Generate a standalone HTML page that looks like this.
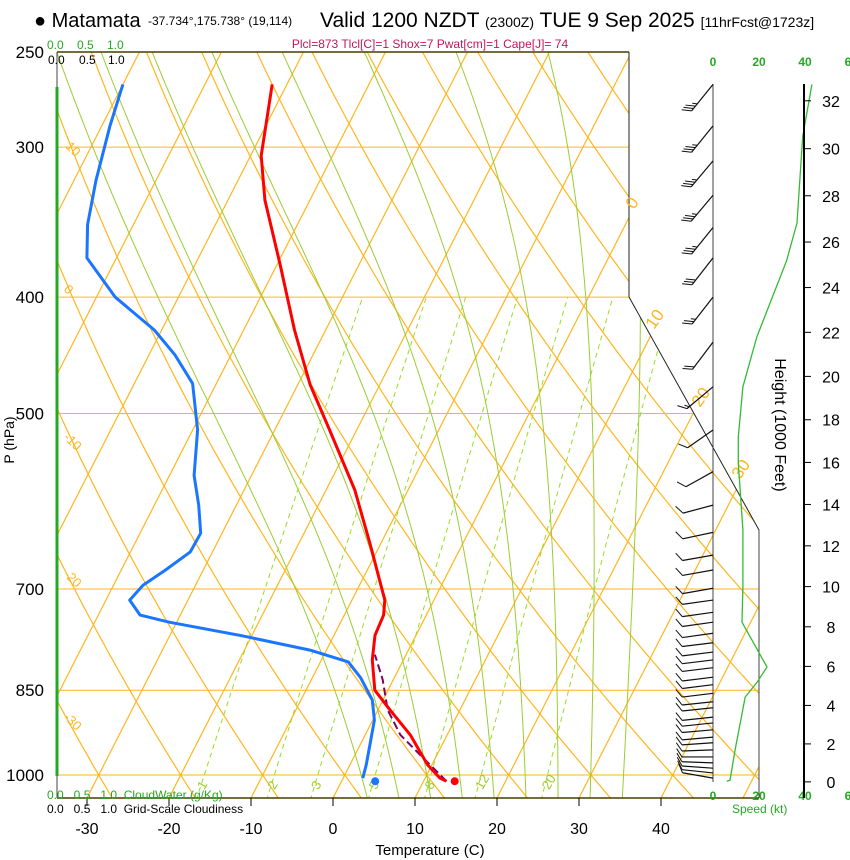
<!DOCTYPE html>
<html><head><meta charset="utf-8"><style>
html,body{margin:0;padding:0;background:#fff;}
svg{display:block;font-family:"Liberation Sans",sans-serif;}
</style></head><body>
<svg id="c" width="850" height="860" viewBox="0 0 850 860" xmlns="http://www.w3.org/2000/svg">
<defs><clipPath id="plotclip"><polygon points="57,52 629,52 629,297 759,530 759,798 57,798"/></clipPath></defs>
<g id="bg" clip-path="url(#plotclip)"></g>
<g id="data" clip-path="url(#plotclip)"></g>
<g id="ax"></g>
<g>
<text x="34" y="27" font-size="20">● Matamata</text>
<text x="148" y="25" font-size="12">-37.734°,175.738° (19,114)</text>
<text x="320" y="27" font-size="21">Valid 1200 NZDT <tspan font-size="14">(2300Z)</tspan> TUE 9 Sep 2025 <tspan font-size="14">[11hrFcst@1723z]</tspan></text>
<text x="430" y="48" font-size="12" fill="#c0185a" text-anchor="middle">Plcl=873 Tlcl[C]=1 Shox=7 Pwat[cm]=1 Cape[J]= 74</text>
</g>
<g font-size="12">
<text x="47" y="49" fill="#22aa22">0.0</text>
<text x="77" y="49" fill="#22aa22">0.5</text>
<text x="107" y="49" fill="#22aa22">1.0</text>
<text x="48" y="64" fill="#000">0.0</text>
<text x="79" y="64" fill="#000">0.5</text>
<text x="108" y="64" fill="#000">1.0</text>
<text x="47" y="799" fill="#22aa22">0.0&#160;&#160;&#160;0.5&#160;&#160;&#160;1.0&#160;&#160;CloudWater (g/Kg)</text>
<text x="47" y="813" fill="#000">0.0&#160;&#160;&#160;0.5&#160;&#160;&#160;1.0&#160;&#160;Grid-Scale Cloudiness</text>
<text x="732" y="813" fill="#22aa22">Speed (kt)</text>
</g>
<text x="430" y="855" font-size="15" text-anchor="middle">Temperature (C)</text>
<text x="14" y="440" font-size="14" text-anchor="middle" transform="rotate(-90 14 440)">P (hPa)</text>
<text x="775" y="425" font-size="16" text-anchor="middle" transform="rotate(90 775 425)">Height (1000 Feet)</text>
</svg>
<script>
// ---- data arrays ----
const tempP = [266,305,332,376,426,473,516,579,643,715,736,765,802,850,883,926,981,1006,1012];
const tempT = [-51.8,-48.7,-45.5,-39.6,-33.8,-28.5,-23.3,-16.5,-11.2,-6.0,-5.2,-5.0,-3.8,-1.6,1.5,5.5,9.5,11.8,12.8];
const dewP = [266,288,320,348,371,400,426,447,472,516,563,596,629,652,675,695,715,736,746,765,787,805,830,866,900,944,981,1006];
const dewT = [-70.0,-69.0,-67.3,-65.6,-63.6,-57.7,-50.9,-46.8,-42.9,-39.4,-37.0,-34.6,-32.6,-32.7,-34.6,-36.4,-37.1,-34.9,-30.9,-21.5,-12.0,-6.6,-4.1,-1.3,0.2,1.2,2.0,2.4];
const parcelP = [1012,981,926,883,833,794];
const parcelT = [12.8,9.8,4.3,1.2,-1.3,-3.8];
const sfcP = 1012, sfcT = 13.8, sfcTd = 4.1;
const windP = [266,288,308,329,350,371,400,436,475,516,559,596,628,656,675,699,715,732,746,762,776,790,802,814,829,841,855,869,879,895,905,917,930,940,953,966,977,987,996,1006];
const windDir = [219,219,220,220,219,218,218,217,230,235,241,255,258,260,260,260,262,262,262,262,263,263,263,263,263,263,263,264,264,264,264,265,265,266,268,270,272,274,276,280];
const windSpd = [35,35,35,35,35,30,25,20,15,10,10,10,10,10,10,10,10,10,10,10,10,10,10,10,10,10,10,10,10,10,10,10,10,10,10,10,10,10,10,10];
const spdP = [266,294,347,373,432,475,523,550,625,697,746,813,838,861,953,1010,1012];
const spdV = [43,39,36.5,32,19,13,11,11,13,13,12.6,23.5,19,14,9.6,7.4,6];
const tempTicks = [-30,-20,-10,0,10,20,30,40];
const presTicks = [250,300,400,500,700,850,1000];
const heightTicks = [0,2,4,6,8,10,12,14,16,18,20,22,24,26,28,30,32];
const mixRatios = [1,2,3,5,8,12,20];
const moistT0 = [2,6,10,14,18,22,26,30,34];
const dryTheta = [-40,-30,-20,-10,0,10,20,30,40,50,60,70,80,90,100,110,120,130,140,150,160,170];

// ---- scales ----
const NS='http://www.w3.org/2000/svg';
function yP(p){return 775+521.5*Math.log(p/1000);}
function xT(t,p){const y=yP(p);return 333+8.2*t+(798-y)*0.51;}
function mk(tag,attrs,parent){const e=document.createElementNS(NS,tag);for(const k in attrs)e.setAttribute(k,attrs[k]);parent.appendChild(e);return e;}
const bg=document.getElementById('bg'),dg=document.getElementById('data'),ax=document.getElementById('ax');
const OR='#ffb61e';
function pts(arrP,arrT){return arrP.map((p,i)=>xT(arrT[i],p).toFixed(1)+','+yP(p).toFixed(1)).join(' ');}

for(const p of presTicks){const l=mk('line',{x1:57,x2:760,y1:yP(p),y2:yP(p),stroke:OR,'stroke-width':1},bg);

}
for(let t=-120;t<=50;t+=10){const l=mk('line',{x1:xT(t,1050),y1:yP(1050),x2:xT(t,240),y2:yP(240),stroke:OR,'stroke-width':1.2},bg);

}
for(const th of dryTheta){const P=[],T=[];for(let p=1050;p>=240;p-=10){P.push(p);T.push((th+273.15)*Math.pow(p/1000,0.2857)-273.15);}
const l=mk('polyline',{points:pts(P,T),fill:'none',stroke:OR,'stroke-width':1.2},bg);

}
function es(tc){return 6.112*Math.exp(17.67*tc/(tc+243.5));}
for(const t0 of moistT0){let T=t0+273.15;const up=[],ut=[];
for(let p=1000;p>=240;p-=2){up.push(p);ut.push(T-273.15);const e=es(T-273.15),rs=0.622*e/(p-e);
const d=(287*T+2.5e6*rs)/(1005+2.5e6*2.5e6*rs*0.622/(287*T*T));T-=d*Math.log(p/(p-2));}
let T2=t0+273.15;const dp=[],dt=[];for(let p=1000;p<=1060;p+=2){dp.push(p);dt.push(T2-273.15);const e=es(T2-273.15),rs=0.622*e/(p-e);
const d=(287*T2+2.5e6*rs)/(1005+2.5e6*2.5e6*rs*0.622/(287*T2*T2));T2+=d*Math.log((p+2)/p);}
const l=mk('polyline',{points:pts(dp.reverse().concat(up),dt.reverse().concat(ut)),fill:'none',stroke:'#9acd32','stroke-width':1},bg);

}
for(const w of mixRatios){const P=[],T=[];for(let p=1050;p>=400;p-=10){const e=w*p/(622+w),L=Math.log(e/6.112);P.push(p);T.push(243.5*L/(17.67-L));}
const l=mk('polyline',{points:pts(P,T),fill:'none',stroke:'#99dd22','stroke-width':1,'stroke-dasharray':'5,4'},bg);


const e=w*1040/(622+w),L=Math.log(e/6.112),tt=243.5*L/(17.67-L);
const x0=xT(tt,1030)+4,y0=yP(1030);
const tx=mk('text',{x:x0,y:y0,'font-size':13,fill:'#99cc22',transform:'rotate(-60 '+x0+' '+y0+')'},ax);tx.textContent=w;

}

let ln=mk('polyline',{points:pts(dewP,dewT),fill:'none',stroke:'#1a75ff','stroke-width':3,'stroke-linejoin':'round'},dg);


ln=mk('polyline',{points:pts(parcelP,parcelT),fill:'none',stroke:'#800060','stroke-width':2,'stroke-dasharray':'8,4'},dg);


ln=mk('polyline',{points:pts(tempP,tempT),fill:'none',stroke:'#ff0000','stroke-width':3,'stroke-linejoin':'round'},dg);


ln=mk('circle',{cx:xT(sfcT,sfcP),cy:yP(sfcP),r:4,fill:'#ff0000'},ax);


ln=mk('circle',{cx:xT(sfcTd,sfcP),cy:yP(sfcP),r:4,fill:'#1a75ff'},ax);



ln=mk('polyline',{points:'57,52 629,52',fill:'none',stroke:'#4a3c00','stroke-width':1.5},ax);


ln=mk('polyline',{points:'629,52 629,297 759,530 759,798',fill:'none',stroke:'#222','stroke-width':1},ax);


ln=mk('line',{x1:57,x2:759,y1:798,y2:798,stroke:'#4a3c00','stroke-width':1.5},ax);


ln=mk('line',{x1:57,x2:57,y1:52,y2:798,stroke:'#444','stroke-width':1},ax);


ln=mk('line',{x1:57,x2:57,y1:87,y2:776,stroke:'#22aa22','stroke-width':3},ax);


for(const t of tempTicks){const x=333+8.2*t;
const tk=mk('line',{x1:x,x2:x,y1:798,y2:806,stroke:'#000'},ax);


const tx=mk('text',{x:x,y:834,'font-size':16,'text-anchor':'middle'},ax);tx.textContent=t;

}
for(const p of presTicks){const tx=mk('text',{x:44,y:yP(p)+6,'font-size':17,'text-anchor':'end'},ax);tx.textContent=p;

}
const thLab=[['10',65,147],['0',63,290],['-10',63,438],['-20',63,575],['-30',63,718]];
for(const [s,x,y] of thLab){const tx=mk('text',{x:x,y:y,'font-size':13,fill:OR,transform:'rotate(45 '+x+' '+y+')'},ax);tx.textContent=s;

}
const isoLab=[['0',634,210],['10',654,330],['20',700,408],['30',740,480]];
for(const [s,x,y] of isoLab){const tx=mk('text',{x:x,y:y,'font-size':17,fill:OR,transform:'rotate(-55 '+x+' '+y+')'},ax);tx.textContent=s;

}

ln=mk('line',{x1:713,x2:713,y1:84,y2:782,stroke:'#444','stroke-width':1},ax);


for(let i=0;i<windP.length;i++){const y=yP(windP[i]),d=windDir[i]*Math.PI/180;
const ux=Math.sin(d),uy=-Math.cos(d),L=windP[i]<500?34:31;
const ex=713+ux*L,ey=y+uy*L;
const s=mk('line',{x1:713,y1:y,x2:ex,y2:ey,stroke:'#111','stroke-width':1.2},ax);


const a=Math.atan2(uy,ux)+1.0,bx=Math.cos(a),by=Math.sin(a);
let sp=windSpd[i],k=0;
while(sp>=10){const px=ex-ux*k*3,py=ey-uy*k*3;
const b=mk('line',{x1:px,y1:py,x2:px+bx*10,y2:py+by*10,stroke:'#111','stroke-width':1},ax);

sp-=10;k++;}
if(sp>=5){const px=ex-ux*k*3,py=ey-uy*k*3;
const b=mk('line',{x1:px,y1:py,x2:px+bx*5,y2:py+by*5,stroke:'#111','stroke-width':1},ax);

}}
ln=mk('line',{x1:759,x2:759,y1:530,y2:798,stroke:'#444'},ax);


const spd=spdP.map((p,i)=>(713+spdV[i]*2.3).toFixed(1)+','+yP(p).toFixed(1)).join(' ');
ln=mk('polyline',{points:spd,fill:'none',stroke:'#33bb33','stroke-width':1.3},ax);


for(const [v,x] of [['0',713],['20',759],['40',805],['6',848]]){
for(const y of [66,800]){const tx=mk('text',{x:x,y:y,'font-size':12,fill:'#22aa22','text-anchor':'middle','font-weight':'bold'},ax);tx.textContent=v;

}}
ln=mk('line',{x1:804,x2:804,y1:84,y2:798,stroke:'#000','stroke-width':2},ax);


function pH(k){return 1013.25*Math.pow(1-6.8756e-6*k*1000,5.2559);}
for(const h of heightTicks){const y=yP(pH(h));
const tk=mk('line',{x1:804,x2:811,y1:y,y2:y,stroke:'#000'},ax);


const tx=mk('text',{x:831,y:y+6,'font-size':16,'text-anchor':'middle'},ax);tx.textContent=h;

}
</script>
</body></html>
